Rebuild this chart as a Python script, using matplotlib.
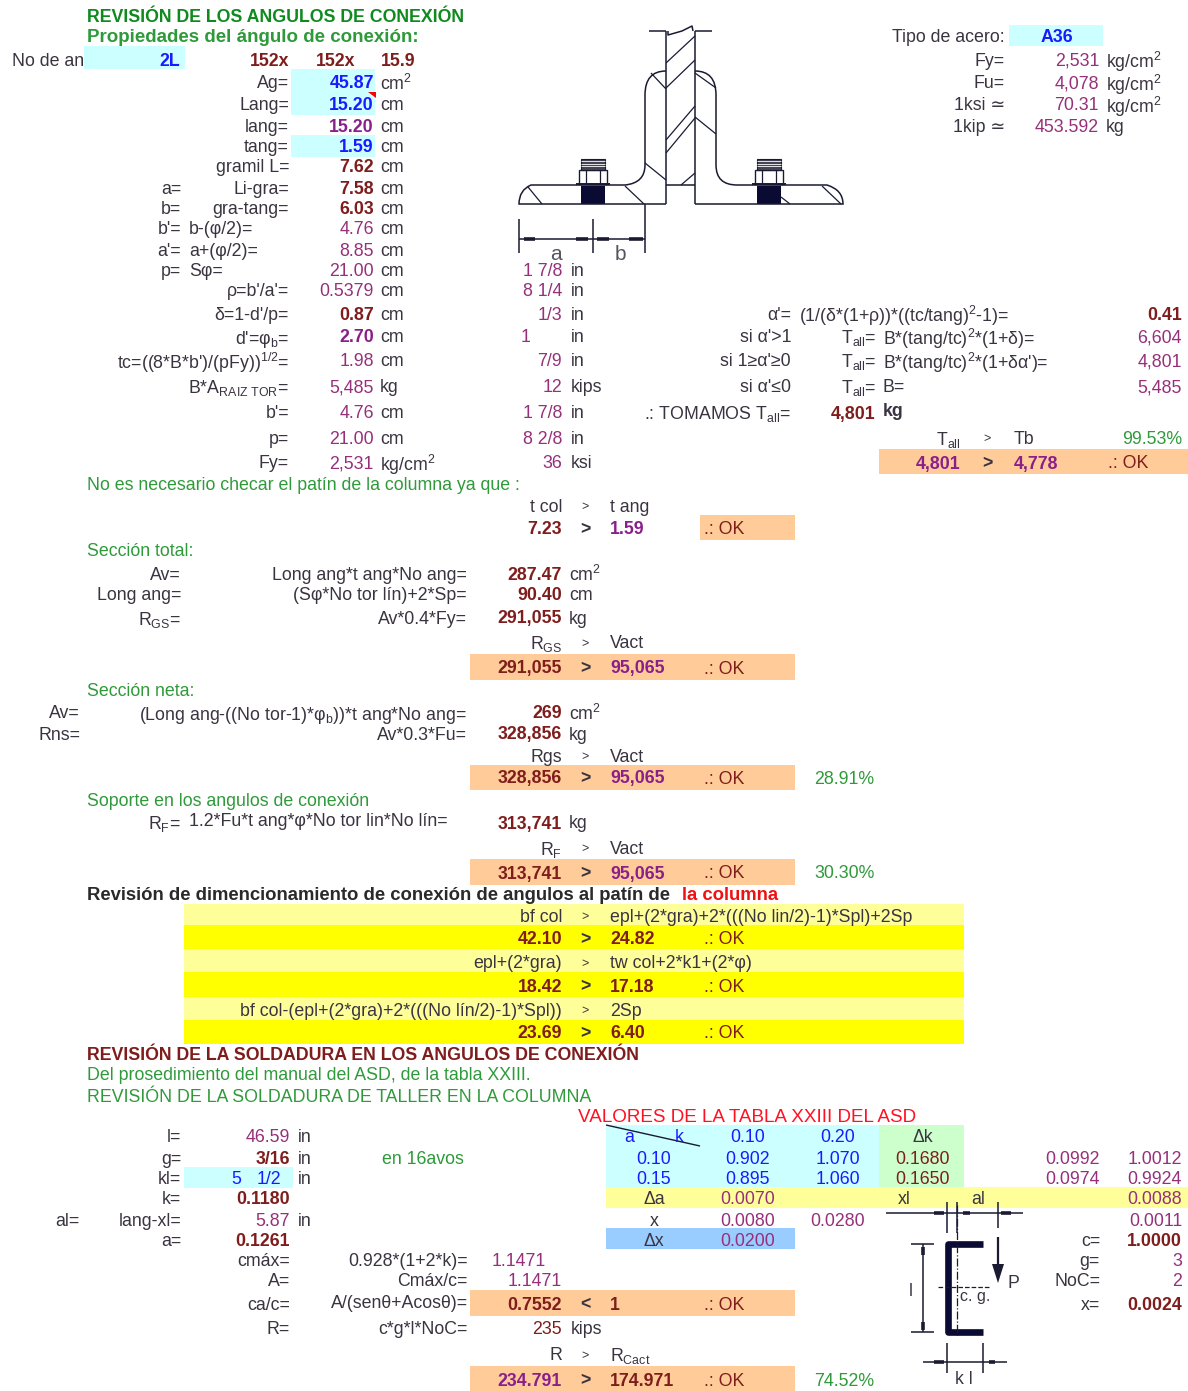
# coding: utf-8

import matplotlib
matplotlib.use('Agg')
import matplotlib.pyplot as plt
from matplotlib.patches import Rectangle, Polygon, PathPatch
from matplotlib.path import Path

plt.rcParams['font.family'] = ['Liberation Sans', 'DejaVu Sans']
plt.rcParams['mathtext.fontset'] = 'custom'
plt.rcParams['mathtext.rm'] = 'Liberation Sans'
plt.rcParams['mathtext.it'] = 'Liberation Sans'
plt.rcParams['mathtext.bf'] = 'Liberation Sans:bold'
plt.rcParams['mathtext.default'] = 'regular'

# ---- valeurs de la feuille ----
CM2 = 'cm$^{2}$'
KGCM2 = 'kg/cm$^{2}$'
TALL = 'T$_{all}$'

TITLE = 'REVISIÓN DE LOS ANGULOS DE CONEXIÓN'
SUBTITLE = 'Propiedades del ángulo de conexión:'
ANGLE_SIZE = ['152x', '152x', '15.9']

PROP_LABELS = ['Ag=', 'Lang=', 'lang=', 'tang=', 'gramil L=', 'Li-gra=', 'gra-tang=',
               '\u03c1=b\'/a\'=', '\u03b4=1-d\'/p=', 'd\'=\u03c6$_{b}$=',
               'tc=((8*B*b\')/(pFy))$^{1/2}$=', 'B*A$_{RAIZ\\ TOR}$=', 'b\'=', 'p=', 'Fy=']
PROP_VALUES = ['45.87', '15.20', '15.20', '1.59', '7.62', '7.58', '6.03',
               '0.5379', '0.87', '2.70', '1.98', '5,485', '4.76', '21.00', '2,531']
PROP_UNITS = [CM2, 'cm', 'cm', 'cm', 'cm', 'cm', 'cm', 'cm', 'cm', 'cm', 'cm', 'kg', 'cm', 'cm', KGCM2]
PROP_KIND = ['in', 'in', 'pb', 'in', 'mb', 'mb', 'mb', 'p', 'mb', 'pb', 'p', 'p', 'p', 'p', 'p']

SIDE_NAMES = ['a=', 'b=', 'b\'=', 'a\'=', 'p=']
SIDE_FORMULAS = ['', '', 'b-(\u03c6/2)=', 'a+(\u03c6/2)=', 'S\u03c6=']
SIDE_VALUES = ['4.76', '8.85', '21.00']

INCH_VALUES = ['1 7/8', '8 1/4', '1/3', '1', '7/9', '12', '1 7/8', '8 2/8', '36']
INCH_UNITS = ['in', 'in', 'in', 'in', 'in', 'kips', 'in', 'in', 'ksi']

STEEL_LABELS = ['Fy=', 'Fu=', '1ksi \u2243', '1kip \u2243']
STEEL_VALUES = ['2,531', '4,078', '70.31', '453.592']
STEEL_UNITS = [KGCM2, KGCM2, KGCM2, 'kg']

ALPHA_CONDS = ['\u03b1\'=', 'si \u03b1\'>1', 'si 1\u2265\u03b1\'\u22650', 'si \u03b1\'\u22640']
ALPHA_FORMULAS = ['(1/(\u03b4*(1+\u03c1))*((tc/tang)$^{2}$-1)=', 'B*(tang/tc)$^{2}$*(1+\u03b4)=',
                  'B*(tang/tc)$^{2}$*(1+\u03b4\u03b1\')=', 'B=']
ALPHA_VALUES = ['0.41', '6,604', '4,801', '5,485']

# lignes de verification : gauche, droite, pourcentage
SHEAR_NAMES = ['Av=', 'Long ang=', 'R$_{GS}$=']
SHEAR_FORMULAS = ['Long ang*t ang*No ang=', '(S\u03c6*No tor lín)+2*Sp=', 'Av*0.4*Fy=']
SHEAR_VALUES = ['287.47', '90.40', '291,055']
SHEAR_UNITS = [CM2, 'cm', 'kg']

NET_NAMES = ['Av=', 'Rns=']
NET_FORMULAS = ['(Long ang-((No tor-1)*\u03c6$_{b}$))*t ang*No ang=', 'Av*0.3*Fu=']
NET_VALUES = ['269', '328,856']
NET_UNITS = [CM2, 'kg']

CHECK_HEAD_L = ['t col', 'R$_{GS}$', 'Rgs', 'R$_{F}$', 'R']
CHECK_HEAD_R = ['t ang', 'Vact', 'Vact', 'Vact', 'R$_{Cact}$']
CHECK_LEFT = ['7.23', '291,055', '328,856', '313,741', '234.791']
CHECK_RIGHT = ['1.59', '95,065', '95,065', '95,065', '174.971']
CHECK_PCT = ['', '', '28.91%', '30.30%', '74.52%']

BAND_LEFT_HEAD = ['bf col', 'epl+(2*gra)', 'bf col-(epl+(2*gra)+2*(((No lín/2)-1)*Spl))']
BAND_RIGHT_HEAD = ['epl+(2*gra)+2*(((No lin/2)-1)*Spl)+2Sp', 'tw col+2*k1+(2*\u03c6)', '2Sp']
BAND_LEFT = ['42.10', '18.42', '23.69']
BAND_RIGHT = ['24.82', '17.18', '6.40']

WELD_NAMES = ['l=', 'g=', 'kl=', 'k=', 'lang-xl=', 'a=']
WELD_VALUES = ['46.59', '3/16', '', '0.1180', '5.87', '0.1261']
WELD_UNITS = ['in', 'in', 'in', '', 'in', '']
WELD_KIND = ['p', 'mb', 'p', 'mb', 'p', 'mb']

C_NAMES = ['cmáx=', 'A=', 'ca/c=', 'R=']
C_FORMULAS = ['0.928*(1+2*k)=', 'Cmáx/c=', 'A/(sen\u03b8+Acos\u03b8)=', 'c*g*l*NoC=']

TAB_HEAD = ['0.10', '0.20', '\u0394k']
TAB_A = ['0.10', '0.15']
TAB_K10 = ['0.902', '0.895']
TAB_K20 = ['1.070', '1.060']
TAB_DK = ['0.1680', '0.1650']
TAB_X1 = ['0.0992', '0.0974']
TAB_X2 = ['1.0012', '0.9924']
RESULT_NAMES = ['c=', 'g=', 'NoC=', 'x=']
RESULT_VALUES = ['1.0000', '3', '2', '0.0024']

# ---- couleurs ----
LABEL = '#3a3340'
MAROON = '#7f1d1d'
PLUM = '#96307a'
PURPLE = '#8a1f8a'
BLUE = '#1a1aff'
GREEN = '#2f9a3a'
DGREEN = '#0f8a1e'
CYAN = '#ccffff'
ORANGE = '#ffcc99'
YELLOW = '#ffff00'
PALE = '#ffff99'
LGREEN = '#ccffcc'
SKY = '#99ccff'
LINE = '#1a1a33'

FS = 12.8

fig = plt.figure(figsize=(11.88, 13.91), dpi=100)
ax = fig.add_axes([0, 0, 1, 1])
ax.set_xlim(0, 1188)
ax.set_ylim(1391, 0)
ax.axis('off')


def t(x, y, s, ha='left', color=LABEL, bold=False, fs=FS):
    if not s:
        return
    ax.text(x, y, s, ha=ha, va='center_baseline', color=color, fontsize=fs,
            fontweight='bold' if bold else 'normal')


def box(x0, x1, y0, y1, color):
    ax.add_patch(Rectangle((x0, y0), x1 - x0, y1 - y0, fc=color, ec='none', zorder=0))


def seg(xs, ys, lw=1.1, color=LINE, ls='-'):
    ax.plot(xs, ys, color=color, lw=lw, ls=ls, solid_capstyle='butt')


def tick(x0, y0, x1, y1):
    # trait epais des fleches de cotation
    seg([x0, x1], [y0, y1], lw=2.6)


def outline(points):
    # contour de cornière : L = droite, Q = courbe
    verts = [points[0][1]]
    codes = [Path.MOVETO]
    for kind, *pts in points[1:]:
        verts.extend(pts)
        codes.extend([Path.LINETO] if kind == 'L' else [Path.CURVE3, Path.CURVE3])
    ax.add_patch(PathPatch(Path(verts, codes), fc='none', ec=LINE, lw=1.1, zorder=2))


def value_style(kind):
    if kind == 'in':
        return BLUE, True
    if kind == 'mb':
        return MAROON, True
    if kind == 'pb':
        return PURPLE, True
    return PLUM, False


# ---- fonds ----
for x0, x1, y0, y1 in [(84, 185, 46, 69), (291, 375, 69, 115), (291, 375, 135, 157),
                       (1009, 1103, 25, 46), (184, 293, 1167, 1188), (606, 879, 1125, 1188)]:
    box(x0, x1, y0, y1, CYAN)
for x0, x1, y0, y1 in [(879, 1188, 449, 474), (700, 795, 515, 540), (470, 795, 654, 680),
                       (470, 795, 765, 790), (470, 795, 859, 885), (470, 795, 1290, 1316),
                       (470, 795, 1366, 1391)]:
    box(x0, x1, y0, y1, ORANGE)
for y0, y1, c in [(904, 925, PALE), (925, 949, YELLOW), (949, 972, PALE),
                  (972, 997, YELLOW), (997, 1020, PALE), (1020, 1044, YELLOW)]:
    box(184, 964, y0, y1, c)
box(879, 964, 1125, 1188, LGREEN)
box(606, 1188, 1187, 1208, PALE)
box(606, 795, 1228, 1249, SKY)
ax.add_patch(Polygon([(368, 92), (376, 92), (376, 98)], fc='red', ec='none', zorder=1))

# ---- entete ----
t(87, 15, TITLE, color=DGREEN, bold=True, fs=12.8)
t(87, 36, SUBTITLE, color=GREEN, bold=True, fs=13.5)
t(12, 59, 'No de an')
t(180, 59, '2L', ha='right', color=BLUE, bold=True)
for x, s in zip([289, 355, 415], ANGLE_SIZE):
    t(x, 59, s, ha='right', color=MAROON, bold=True)

prop_rows = [82, 104, 125, 146, 166, 187, 207, 290, 313, 336, 360, 386, 412, 437, 462]
for y, lab, val, unit, kind in zip(prop_rows, PROP_LABELS, PROP_VALUES, PROP_UNITS, PROP_KIND):
    color, bold = value_style(kind)
    t(289, y, lab, ha='right')
    t(374, y, val, ha='right', color=color, bold=bold)
    t(380, y, unit)

for y, name, form in zip([187, 207, 228, 249, 269], SIDE_NAMES, SIDE_FORMULAS):
    t(181, y, name, ha='right')
    t(189, y, form)
for y, val in zip([228, 249, 269], SIDE_VALUES):
    t(374, y, val, ha='right', color=PLUM)
    t(380, y, 'cm')

inch_rows = [269, 290, 313, 336, 360, 386, 412, 437, 462]
for y, val, unit in zip(inch_rows, INCH_VALUES, INCH_UNITS):
    t(531 if val == '1' else 562, y, val, ha='right', color=PLUM)
    t(571, y, unit)

# ---- acier ----
t(1005, 36, 'Tipo de acero:', ha='right')
t(1057, 36, 'A36', ha='center', color=BLUE, bold=True)
for y, lab, val, unit in zip([59, 82, 104, 126], STEEL_LABELS, STEEL_VALUES, STEEL_UNITS):
    t(1005, y, lab, ha='right')
    t(1099, y, val, ha='right', color=PLUM)
    t(1106, y, unit)

# ---- alpha ----
for i, y in enumerate([313, 336, 360, 386]):
    t(791, y, ALPHA_CONDS[i], ha='right')
    if i:
        t(876, y, TALL + '=', ha='right')
    t(799 if i == 0 else 883, y, ALPHA_FORMULAS[i])
    t(1182, y, ALPHA_VALUES[i], ha='right', color=MAROON if i == 0 else PLUM, bold=i == 0)
t(791, 412, '.: TOMAMOS ' + TALL + '=', ha='right')
t(875, 412, '4,801', ha='right', color=MAROON, bold=True)
t(883, 410, 'kg', color=LABEL, bold=True)
t(961, 437, TALL, ha='right')
t(987, 437, '>', ha='center', fs=9)
t(1014, 437, 'Tb')
t(1182, 437, '99.53%', ha='right', color=GREEN)
t(960, 462, '4,801', ha='right', color=PURPLE, bold=True)
t(987, 462, '>', ha='center', bold=True)
t(1014, 462, '4,778', color=PURPLE, bold=True)
t(1108, 462, '.: OK', color=MAROON)

# ---- verifications ----
t(87, 484, 'No es necesario checar el patín de la columna ya que :', color=GREEN)
t(87, 550, 'Sección total:', color=GREEN)
for y, n, f, v, u in zip([573, 594, 617], SHEAR_NAMES, SHEAR_FORMULAS, SHEAR_VALUES, SHEAR_UNITS):
    t(181, y, n, ha='right')
    t(467, y, f, ha='right')
    t(562, y, v, ha='right', color=MAROON, bold=True)
    t(569, y, u)

t(87, 689, 'Sección neta:', color=GREEN)
for y, n, f, v, u in zip([712, 733], NET_NAMES, NET_FORMULAS, NET_VALUES, NET_UNITS):
    t(80, y, n, ha='right')
    t(467, y, f, ha='right')
    t(562, y, v, ha='right', color=MAROON, bold=True)
    t(569, y, u)

t(87, 799, 'Soporte en los angulos de conexión', color=GREEN)
t(181, 821, 'R$_{F}$=', ha='right')
t(189, 820, '1.2*Fu*t ang*\u03c6*No tor lin*No lín=')
t(562, 822, '313,741', ha='right', color=MAROON, bold=True)
t(569, 822, 'kg')

for i, (y0, y1) in enumerate([(505, 528), (642, 667), (755, 777), (847, 872), (1354, 1379)]):
    left_color = PURPLE if i == 4 else MAROON
    right_color = PURPLE if i == 0 else (MAROON if i == 4 else PURPLE)
    t(562, y0, CHECK_HEAD_L[i], ha='right')
    t(585, y0, '>', ha='center', fs=9)
    t(610, y0, CHECK_HEAD_R[i])
    t(562, y1, CHECK_LEFT[i], ha='right', color=left_color, bold=True)
    t(585, y1, '>', ha='center', bold=True)
    t(610, y1, CHECK_RIGHT[i], color=right_color, bold=True)
    t(704, y1, '.: OK', color=MAROON)
    t(814, y1, CHECK_PCT[i], color=GREEN)

# ---- bandes jaunes ----
t(87, 894, 'Revisión de dimencionamiento de conexión de angulos al patín de', color='#2a2a2a', bold=True, fs=13.3)
t(682, 894, 'la columna', color='#ee1111', bold=True, fs=13.3)
for i, (y0, y1) in enumerate([(915, 938), (962, 985), (1009, 1032)]):
    t(562, y0, BAND_LEFT_HEAD[i], ha='right')
    t(585, y0, '>', ha='center', fs=9)
    t(610, y0, BAND_RIGHT_HEAD[i])
    t(562, y1, BAND_LEFT[i], ha='right', color=MAROON, bold=True)
    t(585, y1, '>', ha='center', bold=True)
    t(610, y1, BAND_RIGHT[i], color=MAROON, bold=True)
    t(704, y1, '.: OK', color=MAROON)

# ---- soudure ----
t(87, 1053, 'REVISIÓN DE LA SOLDADURA EN LOS ANGULOS DE CONEXIÓN', color=MAROON, bold=True)
t(87, 1074, 'Del prosedimiento del manual del ASD, de la tabla XXIII.', color=GREEN)
t(87, 1095, 'REVISIÓN DE LA SOLDADURA DE TALLER EN LA COLUMNA', color=GREEN)
t(578, 1115, 'VALORES DE LA TABLA XXIII DEL ASD', color='#ff1122', fs=13.6)

for y, n, v, u, k in zip([1136, 1157, 1177, 1198, 1219, 1239], WELD_NAMES, WELD_VALUES, WELD_UNITS, WELD_KIND):
    color, bold = value_style(k)
    t(181, y, n, ha='right')
    t(290, y, v, ha='right', color=color, bold=bold)
    t(298, y, u)
t(79, 1219, 'al=', ha='right')
t(231, 1177, '5', color=BLUE)
t(257, 1177, '1/2', color=BLUE)
t(382, 1157, 'en 16avos', color=GREEN)

for y, n, f in zip([1260, 1280, 1303, 1328], C_NAMES, C_FORMULAS):
    t(290, y, n, ha='right')
    t(468, y - 2 if y == 1303 else y, f, ha='right')
t(546, 1260, '1.1471', ha='right', color=PLUM)
t(562, 1280, '1.1471', ha='right', color=PLUM)
t(562, 1303, '0.7552', ha='right', color=MAROON, bold=True)
t(585, 1303, '<', ha='center', bold=True)
t(610, 1303, '1', color=MAROON, bold=True)
t(704, 1303, '.: OK', color=MAROON)
t(562, 1328, '235', ha='right', color=MAROON)
t(571, 1328, 'kips')

# ---- table XXIII ----
t(629, 1136, 'a', ha='center', color=BLUE)
t(679, 1136, 'k', ha='center', color=BLUE)
for x, s in zip([748, 838], TAB_HEAD[:2]):
    t(x, 1136, s, ha='center', color=BLUE)
t(923, 1136, TAB_HEAD[2], ha='center')
for i, y in enumerate([1157, 1177]):
    t(654, y, TAB_A[i], ha='center', color=BLUE)
    t(748, y, TAB_K10[i], ha='center', color=BLUE)
    t(838, y, TAB_K20[i], ha='center', color=BLUE)
    t(923, y, TAB_DK[i], ha='center', color=MAROON)
    t(1100, y, TAB_X1[i], ha='right', color=PLUM)
    t(1182, y, TAB_X2[i], ha='right', color=PLUM)
seg([606, 700], [1125, 1146], lw=1.0)

t(654, 1198, '\u0394a', ha='center')
t(748, 1198, '0.0070', ha='center', color=PLUM)
t(904, 1197, 'xl', ha='center')
t(978, 1197, 'al', ha='center')
t(1182, 1198, '0.0088', ha='right', color=PLUM)
t(654, 1219, 'x', ha='center')
t(748, 1219, '0.0080', ha='center', color=PLUM)
t(838, 1219, '0.0280', ha='center', color=PLUM)
t(1182, 1219, '0.0011', ha='right', color=PLUM)
t(654, 1239, '\u0394x', ha='center')
t(748, 1239, '0.0200', ha='center', color=PLUM)
for y, n, v, b in zip([1239, 1260, 1280, 1303], RESULT_NAMES, RESULT_VALUES, [True, False, False, True]):
    t(1100, y, n, ha='right')
    t(1182, y, v, ha='right', color=MAROON if b else PLUM, bold=b)

# ---- dessin de la cornière ----
seg([666, 666], [31, 204])
seg([695, 695], [31, 204])
seg([649, 666], [31, 31])
seg([695, 712], [31, 31])
seg([668, 668, 682, 692, 693], [31, 35, 31, 26, 31])
seg([666, 695], [185, 185])
outline([('M', (666, 71)), ('Q', (645, 71), (645, 95)), ('L', (645, 165)), ('Q', (645, 183), (625, 185)),
         ('L', (531, 185)), ('Q', (519, 190), (519, 204)), ('L', (666, 204))])
outline([('M', (695, 71)), ('Q', (716, 71), (716, 95)), ('L', (716, 165)), ('Q', (716, 185), (737, 185)),
         ('L', (827, 185)), ('Q', (843, 190), (843, 204)), ('L', (695, 204))])
# hachures
for x0, y0, x1, y1 in [(666, 63, 695, 36), (666, 88, 695, 60), (666, 140, 695, 106), (666, 153, 695, 118),
                       (681, 185, 695, 173), (645, 163, 666, 180), (651, 73, 666, 89),
                       (695, 73, 716, 88), (695, 117, 716, 134), (528, 187, 542, 204), (625, 186, 644, 204),
                       (781, 197, 790, 204), (822, 186, 841, 204)]:
    seg([x0, x1], [y0, y1], lw=0.9)
# boulons
for xc in (593, 769):
    box(xc - 12, xc + 12, 186, 204, '#0a0a33')
    ax.add_patch(Rectangle((xc - 14, 170), 28, 14, fc='white', ec=LINE, lw=1.0, zorder=2))
    seg([xc - 7, xc - 7], [170, 184], lw=0.9)
    seg([xc + 7, xc + 7], [170, 184], lw=0.9)
    seg([xc - 17, xc + 17], [184, 184], lw=1.4)
    ax.add_patch(Rectangle((xc - 12, 159), 24, 11, fc='#444455', ec=LINE, lw=0.8, zorder=2))
    for yy in (161, 163.5, 166):
        seg([xc - 12, xc + 12], [yy, yy], lw=0.6, color='white')
# cotes a, b
seg([519, 519], [219, 253])
seg([593, 593], [219, 253])
seg([645, 645], [204, 253])
seg([519, 645], [239, 239])
for x0, x1 in [(524, 535), (576, 588), (597, 609), (629, 643)]:
    tick(x0, 239, x1, 239)
t(556, 253, 'a', ha='center', fs=15, color='#555560')
t(620, 253, 'b', ha='center', fs=15, color='#555560')

# ---- dessin du C ----
seg([886, 1023], [1213, 1213])
for x in (947, 957, 998):
    seg([x, x], [1202, 1233] if x != 998 else [1202, 1228])
for x0, x1 in [(934, 943.5), (963, 970), (1001, 1011)]:
    tick(x0, 1213, x1, 1213)
seg([983, 947.5, 947.5, 983], [1243.5, 1243.5, 1332, 1332], lw=4.8, color='#0a0a33')
seg([957, 957], [1205, 1337], lw=0.9, ls='-.')
seg([998, 998], [1237, 1265], lw=1.6)
ax.add_patch(Polygon([(992, 1264), (1004, 1264), (998, 1283)], fc=LINE, ec='none'))
t(1013, 1281, 'P', ha='center')
seg([938, 989], [1287, 1287], lw=0.9, ls='--')
t(975, 1295, 'c. g.', ha='center', fs=11.5)
seg([923, 923], [1244, 1332])
seg([911, 934], [1244, 1244])
seg([911, 934], [1332, 1332])
tick(923, 1247, 923, 1255)
tick(923, 1322, 923, 1330)
t(911, 1289, 'l', ha='center')
seg([947, 947], [1343, 1373])
seg([983, 983], [1343, 1373])
seg([923, 1007], [1362, 1362])
tick(934, 1362, 943.5, 1362)
tick(989, 1362, 995, 1362)
t(964, 1378, 'k l', ha='center')

fig.savefig('out.png', dpi=100, facecolor='white')
